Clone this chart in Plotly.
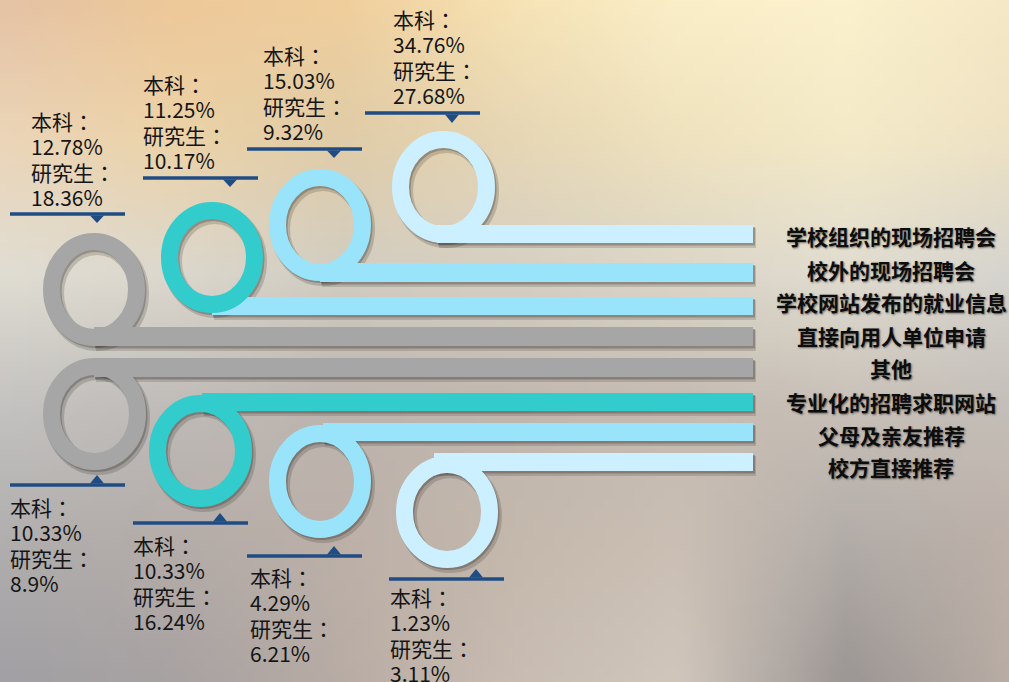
import base64
import struct
import zlib

import plotly.graph_objects as go

# ---------------- data ----------------
categories = ["学校组织的现场招聘会", "校外的现场招聘会", "学校网站发布的就业信息", "直接向用人单位申请",
              "其他", "专业化的招聘求职网站", "父母及亲友推荐", "校方直接推荐"]
undergrad = [34.76, 15.03, 11.25, 12.78, 10.33, 10.33, 4.29, 1.23]
graduate = [27.68, 9.32, 10.17, 18.36, 8.9, 16.24, 6.21, 3.11]
label_ug = "本科："
label_grad = "研究生："

# ---------------- styling / layout ----------------
W, H = 1009, 682
GREY, TEAL, LBLUE, PALE = "#A6A6A6", "#33CCCC", "#99E4FA", "#CCF0FF"
NAVY = "#204C84"

bar_colors = [PALE, LBLUE, LBLUE, GREY, GREY, TEAL, LBLUE, PALE]
ring_colors = [PALE, LBLUE, TEAL, GREY, GREY, TEAL, LBLUE, PALE]
bar_y = [(225, 243), (263, 282), (297, 315), (327, 346), (358, 377), (393, 411), (423, 441), (453, 471)]
bar_x0 = [437, 320, 212, 94, 94, 202, 323, 434]
bar_x1 = 753
ring_box = [(392, 131, 495, 243), (269, 169, 371, 281), (161, 202, 263, 313), (43, 233, 145, 346),
            (43, 358, 146, 470), (149, 395, 252, 507), (269, 425, 371, 538), (396, 456, 498, 568)]
label_y = [236, 270, 302, 336, 368, 402, 435, 467]
# callouts: (line x0, line x1, line y, pointer x, pointer apex y, text x, first text line y)
callouts = [
    (365, 480, 113, 452, 123, 393, 19),
    (247, 362, 149, 334, 158, 263, 55),
    (143, 258, 178, 230, 187, 143, 84),
    (10, 125, 214, 97, 223, 31, 121),
    (10, 125, 485, 97, 475, 10, 507),
    (133, 248, 523, 220, 513, 133, 545),
    (247, 362, 556, 334, 546, 250, 577),
    (389, 504, 579, 476, 569, 390, 597),
]
PITCH = 25.3


# ---------------- background gradient image ----------------
bg_x = [0, 170, 340, 510, 680, 850, 1009]
bg_y = [0, 136, 272, 409, 545, 682]
bg_grid = [
    ["E5C3A5", "EDC899", "F0CE9C", "F6E2B4", "FAEEC8", "FBF1CC", "F5E8C6"],
    ["EBD5B8", "ECD3A8", "E0CCA8", "E6D6B4", "EFE2BE", "F4EAC8", "EEE2C4"],
    ["E0DDD3", "DCD8CE", "D2CDC2", "D6D0C4", "DCD6C8", "E0DCD0", "D6D4CE"],
    ["C4C2C0", "BFBBB8", "BCB4AE", "C0B6AE", "C4BAB0", "C8C0B8", "C4BEB8"],
    ["B0AEAE", "B4ACA8", "BCB0A8", "C4B8AC", "CBBFB4", "B2ACA8", "BCB0A8"],
    ["A2A0A4", "A8A2A2", "B8ACA4", "C8BCB2", "D0C6BC", "9C9694", "B8ACA4"],
]


def hex2rgb(h):
    return [int(h[i:i + 2], 16) for i in (0, 2, 4)]


def seg(vals, v):
    for i in range(len(vals) - 1):
        if vals[i] <= v <= vals[i + 1]:
            return i, (v - vals[i]) / (vals[i + 1] - vals[i])
    return len(vals) - 2, 1.0


def make_bg(iw=101, ih=69):
    rows = []
    grid = [[hex2rgb(c) for c in r] for r in bg_grid]
    for j in range(ih):
        py = j * H / (ih - 1)
        yi, ty = seg(bg_y, py)
        row = bytearray([0])
        for i in range(iw):
            px = i * W / (iw - 1)
            xi, tx = seg(bg_x, px)
            c00, c10 = grid[yi][xi], grid[yi][xi + 1]
            c01, c11 = grid[yi + 1][xi], grid[yi + 1][xi + 1]
            for k in range(3):
                top = c00[k] * (1 - tx) + c10[k] * tx
                bot = c01[k] * (1 - tx) + c11[k] * tx
                row.append(int(round(top * (1 - ty) + bot * ty)))
        rows.append(bytes(row))
    raw = b"".join(rows)

    def chunk(t, d):
        c = struct.pack(">I", len(d)) + t + d
        return c + struct.pack(">I", zlib.crc32(t + d) & 0xFFFFFFFF)

    png = b"\x89PNG\r\n\x1a\n" + chunk(b"IHDR", struct.pack(">IIBBBBB", iw, ih, 8, 2, 0, 0, 0)) \
        + chunk(b"IDAT", zlib.compress(raw, 9)) + chunk(b"IEND", b"")
    return "data:image/png;base64," + base64.b64encode(png).decode()


fig = go.Figure()
shapes = []
annotations = []

# bar shadows
for (y0, y1), x0 in zip(bar_y, bar_x0):
    shapes.append(dict(type="rect", x0=x0 + 2, x1=bar_x1 + 3, y0=y0 + 3, y1=y1 + 5,
                       fillcolor="rgba(40,30,25,0.16)", line_width=0))
    shapes.append(dict(type="rect", x0=x0 + 1, x1=bar_x1 + 2, y0=y0 + 2, y1=y1 + 2.5,
                       fillcolor="rgba(40,30,25,0.28)", line_width=0))

# ring shadows
SW = 17
for (x0, y0, x1, y1) in ring_box:
    h = SW / 2
    shapes.append(dict(type="circle", x0=x0 + h + 3, x1=x1 - h + 3, y0=y0 + h + 4, y1=y1 - h + 4,
                       line=dict(color="rgba(30,25,20,0.18)", width=SW + 2), fillcolor="rgba(0,0,0,0)"))
    shapes.append(dict(type="circle", x0=x0 + h + 1.5, x1=x1 - h + 1.5, y0=y0 + h + 2, y1=y1 - h + 2,
                       line=dict(color="rgba(30,25,20,0.25)", width=SW), fillcolor="rgba(0,0,0,0)"))

# bars
for (y0, y1), x0, c in zip(bar_y, bar_x0, bar_colors):
    shapes.append(dict(type="rect", x0=x0, x1=bar_x1, y0=y0, y1=y1, fillcolor=c, line_width=0))

# rings
for (x0, y0, x1, y1), c in zip(ring_box, ring_colors):
    h = SW / 2
    shapes.append(dict(type="circle", x0=x0 + h, x1=x1 - h, y0=y0 + h, y1=y1 - h,
                       line=dict(color=c, width=SW), fillcolor="rgba(0,0,0,0)"))

# right-side category labels
for cat, y in zip(categories, label_y):
    annotations.append(dict(x=891, y=y, text=f"<b>{cat}</b>", showarrow=False,
                            xanchor="center", yanchor="middle",
                            font=dict(family="Noto Sans CJK SC", size=21, color="#0d0d0d",
                                      shadow="1px 1px 2px rgba(0,0,0,0.5)")))

# callouts with values
for (lx0, lx1, ly, px, pay, tx, ty0), ug, gr in zip(callouts, undergrad, graduate):
    shapes.append(dict(type="line", x0=lx0, x1=lx1, y0=ly, y1=ly, line=dict(color=NAVY, width=3.5)))
    base = ly + 1.5 if pay > ly else ly - 1.5
    shapes.append(dict(type="path", path=f"M {px - 7},{base} L {px + 7},{base} L {px},{pay} Z",
                       fillcolor=NAVY, line_width=0))
    for k, t in enumerate([label_ug, f"{ug}%", label_grad, f"{gr}%"]):
        annotations.append(dict(x=tx - 1, y=ty0 + k * PITCH, text=t, showarrow=False,
                                xanchor="left", yanchor="middle", borderpad=0,
                                font=dict(family="Noto Sans CJK TC", size=21, color="#151515")))

fig.update_layout(
    width=W, height=H,
    margin=dict(l=0, r=0, t=0, b=0),
    paper_bgcolor="#D8D2C6", plot_bgcolor="rgba(0,0,0,0)",
    xaxis=dict(range=[0, W], visible=False, fixedrange=True),
    yaxis=dict(range=[H, 0], visible=False, fixedrange=True),
    shapes=shapes, annotations=annotations, showlegend=False,
    images=[dict(source=make_bg(), xref="paper", yref="paper", x=0, y=1, sizex=1, sizey=1,
                 xanchor="left", yanchor="top", sizing="stretch", layer="below")],
)

fig.write_html("out.html", config={"displayModeBar": False},
               post_script="document.body.style.margin='0';document.body.style.overflow='hidden';")
